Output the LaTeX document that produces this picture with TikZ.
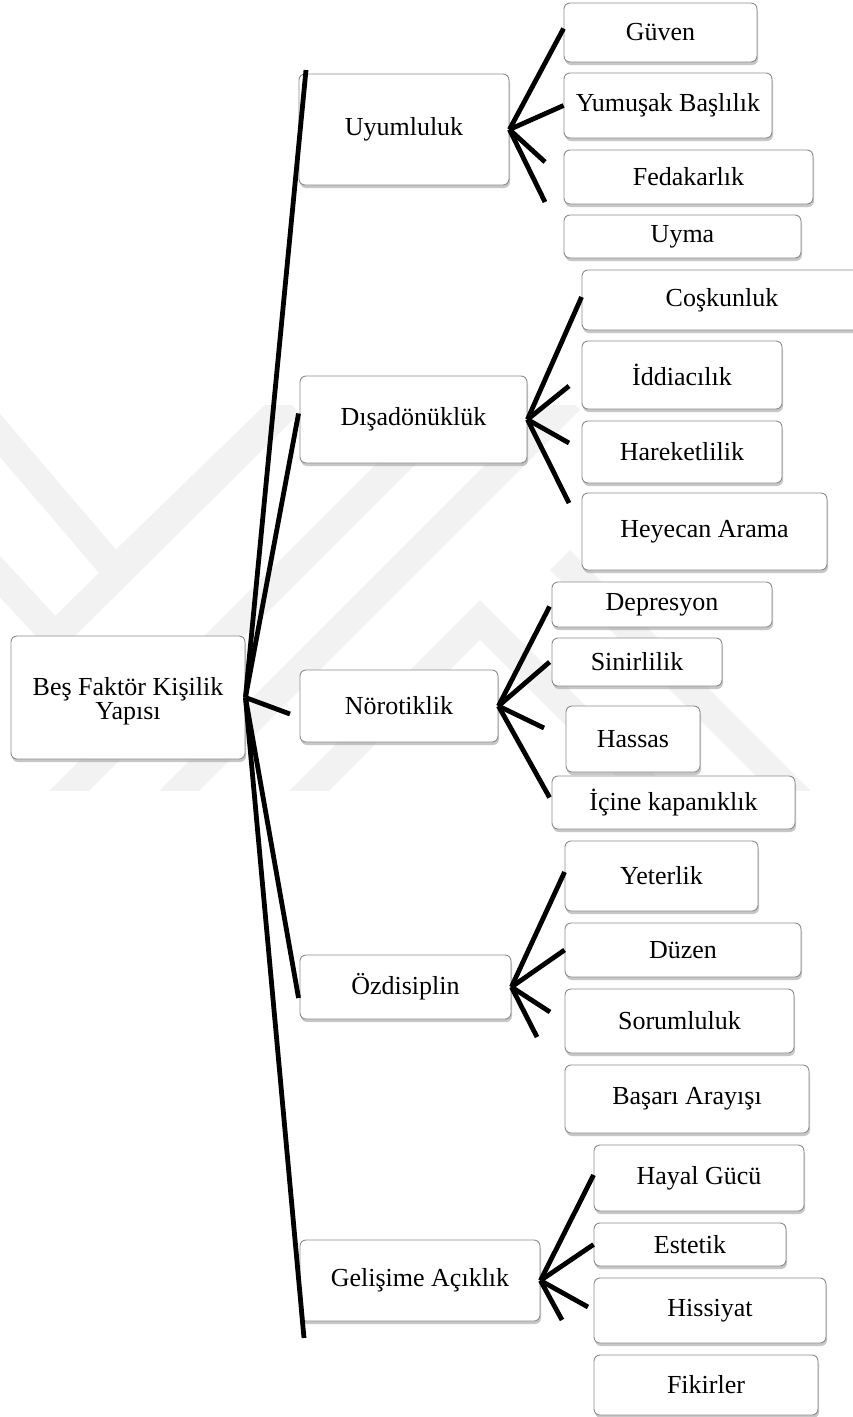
\documentclass[tikz,border=0pt]{standalone}
\usepackage{fontspec}
\setmainfont{Liberation Serif}
\usetikzlibrary{shadows,calc}
\tikzset{
  boxst/.style={draw=black!45, line width=0.9pt, fill=white, rounded corners=6pt,
    inner sep=0pt, align=center, font=\fontsize{26}{24}\selectfont,
    drop shadow={fill=black!40, opacity=0.55, shadow xshift=1pt, shadow yshift=-3pt}},
  conn/.style={line width=4.8pt, black},
  wmark/.style={line width=28pt, black!5}
}
\newcommand{\bfbox}[6]{\node[boxst, minimum width={#4-#2}, minimum height={#5-#3}] (#1) at ({(#2+#4)/2},{(#3+#5)/2}) {#6};}
\begin{document}
\begin{tikzpicture}[x=1pt,y=-1pt]
\useasboundingbox[fill=white] (0,0) rectangle (852,1417);
% faint watermark
\begin{scope}
\clip (0,405) rectangle (852,790);
\draw[wmark] (-20,412) -- (115,570) -- (285,405);
\draw[wmark] (-20,555) -- (55,636) -- (290,403);
\draw[wmark] (60,800) -- (460,400);
\draw[wmark] (170,800) -- (570,400);
\draw[wmark] (300,800) -- (480,620) -- (660,800);
\draw[wmark] (560,560) -- (800,800);
\end{scope}
% boxes
\bfbox{root}{11}{636}{245}{759}{\rule{0pt}{26pt}Beş Faktör Kişilik\\Yapısı}
\bfbox{uy}{299}{74}{509}{185}{Uyumluluk}
\bfbox{dis}{300}{376}{527}{463}{Dışadönüklük}
\bfbox{nor}{300}{670}{498}{742}{Nörotiklik}
\bfbox{ozd}{300}{955}{511}{1019}{Özdisiplin}
\bfbox{gel}{300}{1240}{540}{1321}{Gelişime Açıklık}
\bfbox{guven}{564}{3}{757}{62}{Güven}
\bfbox{yum}{564}{73}{772}{138}{Yumuşak Başlılık}
\bfbox{fed}{564}{150}{813}{204}{Fedakarlık}
\bfbox{uyma}{564}{215}{801}{258}{Uyma}
\bfbox{cos}{582}{270}{862}{330}{Coşkunluk}
\bfbox{idd}{582}{341}{782}{409}{İddiacılık}
\bfbox{har}{582}{421}{782}{483}{Hareketlilik}
\bfbox{hey}{582}{493}{827}{570}{Heyecan Arama}
\bfbox{dep}{552}{582}{772}{627}{Depresyon}
\bfbox{sin}{552}{638}{722}{686}{Sinirlilik}
\bfbox{has}{566}{706}{700}{772}{Hassas}
\bfbox{ici}{552}{776}{795}{829}{İçine kapanıklık}
\bfbox{yet}{565}{841}{758}{911}{Yeterlik}
\bfbox{duz}{565}{923}{801}{977}{Düzen}
\bfbox{sor}{565}{989}{794}{1053}{Sorumluluk}
\bfbox{bas}{565}{1065}{809}{1133}{Başarı Arayışı}
\bfbox{hay}{594}{1145}{804}{1211}{Hayal Gücü}
\bfbox{est}{594}{1223}{786}{1266}{Estetik}
\bfbox{his}{594}{1278}{826}{1343}{Hissiyat}
\bfbox{fik}{594}{1355}{818}{1415}{Fikirler}
% free ends
\coordinate (u3) at (545,162);
\coordinate (u4) at (545,202);
\coordinate (d2) at (569,386);
\coordinate (d3) at (569,443);
\coordinate (d4) at (569,503);
\coordinate (n3) at (544,728);
\coordinate (o3) at (550,1012);
\coordinate (o4) at (537,1037);
\coordinate (g3) at (588,1307);
\coordinate (g4) at (562,1320);
\coordinate (r1) at (306,70);
\coordinate (r3) at (290,714);
\coordinate (r5) at (304,1338);
% root connectors
\draw[conn] (root.east) -- (r1);
\draw[conn] (root.east) -- ($(dis.west)+(-1,-6)$);
\draw[conn] (root.east) -- (r3);
\draw[conn] (root.east) -- ($(ozd.west)+(-1,11)$);
\draw[conn] (root.east) -- (r5);
% Uyumluluk
\draw[conn] (uy.east) -- ($(guven.west)+(0,-4)$);
\draw[conn] (uy.east) -- (yum.west);
\draw[conn] (uy.east) -- (u3);
\draw[conn] (uy.east) -- (u4);
% Disadonukluk
\draw[conn] (dis.east) -- ($(cos.west)+(0,-3)$);
\draw[conn] (dis.east) -- (d2);
\draw[conn] (dis.east) -- (d3);
\draw[conn] (dis.east) -- (d4);
% Norotiklik
\draw[conn] (nor.east) -- ($(dep.west)+(-2,2)$);
\draw[conn] (nor.east) -- ($(sin.west)+(-2,0)$);
\draw[conn] (nor.east) -- (n3);
\draw[conn] (nor.east) -- ($(ici.west)+(-2,-5)$);
% Ozdisiplin
\draw[conn] (ozd.east) -- ($(yet.west)+(0,-4)$);
\draw[conn] (ozd.east) -- (duz.west);
\draw[conn] (ozd.east) -- (o3);
\draw[conn] (ozd.east) -- (o4);
% Gelisime
\draw[conn] (gel.east) -- ($(hay.west)+(0,-3)$);
\draw[conn] (gel.east) -- (est.west);
\draw[conn] (gel.east) -- (g3);
\draw[conn] (gel.east) -- (g4);
\end{tikzpicture}
\end{document}
